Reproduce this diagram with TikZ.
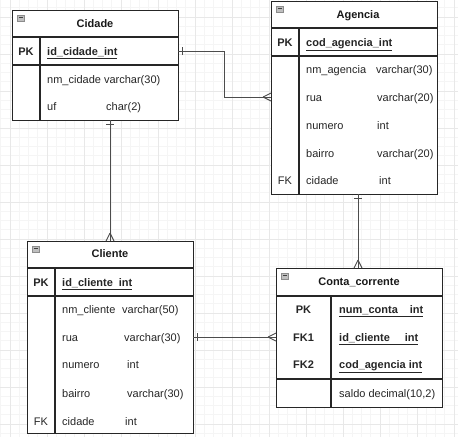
\documentclass[tikz,border=0pt]{standalone}
\usepackage{fontspec}
\setmainfont{Liberation Sans}
\usetikzlibrary{calc}
\begin{document}
\begin{tikzpicture}[x=1pt,y=-1pt,
  box/.style={draw=black!85, line width=1.2pt, anchor=north west, inner sep=0pt},
  sep/.style={draw=black!85, line width=1.2pt},
  txt/.style={anchor=base west, inner sep=0pt, text=black!85, font=\fontsize{11}{13}\selectfont},
  keyt/.style={anchor=base, inner sep=0pt, text=black!85, font=\fontsize{11}{13}\selectfont},
  bkey/.style={keyt, font=\fontsize{11}{13}\selectfont\bfseries},
  btxt/.style={txt, font=\fontsize{11}{13}\selectfont\bfseries},
  ttl/.style={anchor=base, inner sep=0pt, text=black!90, font=\fontsize{11}{13}\selectfont\bfseries},
  icon/.style={draw=black!45, fill=black!25, line width=0.5pt, anchor=north west, minimum width=7pt, minimum height=5.5pt, inner sep=0pt},
  conn/.style={draw=black!70, line width=0.9pt},
  minorg/.style={draw=black!4, line width=0.6pt},
  majorg/.style={draw=black!9, line width=0.6pt}
]
\useasboundingbox (0,0) rectangle (458,437);
\fill[white] (0,0) rectangle (458,437);
% grid
\foreach \i in {0,...,50} {
  \pgfmathsetmacro\gx{0.75+9.25*\i}
  \pgfmathsetmacro\gy{7.75+9.25*\i}
  \draw[minorg] (\gx,0) -- (\gx,437);
  \draw[minorg] (0,\gy) -- (458,\gy);
}
\foreach \i in {0,...,13} {
  \pgfmathsetmacro\gx{10+37*\i}
  \pgfmathsetmacro\gy{17+37*\i-37}
  \draw[majorg] (\gx,0) -- (\gx,437);
  \draw[majorg] (0,\gy) -- (458,\gy);
}

% ---------- Cidade ----------
\node[box, fill=white, minimum width=166pt, minimum height=110pt] (cidade) at (12,10) {};
\draw[sep] (12,37) -- (178,37);
\draw[sep] (12,65) -- (178,65);
\draw[sep] (40,37) -- (40,120);
\node[icon] (cidicon) at (17,15) {};
\draw[black!75, line width=0.8pt] (18.5,17.8) -- (22.5,17.8);
\node[ttl] (cidtitle) at (95,27) {Cidade};
\node[bkey] (cidpk) at (26,55) {PK};
\node[btxt] (cidpkf) at (47,55) {\underline{id\_cidade\_int}};
\node[txt] (cidr1) at (47,83) {nm\_cidade varchar(30)};
\node[txt] (cidr2a) at (47,110) {uf};
\node[txt] (cidr2b) at (106,110) {char(2)};

% ---------- Agencia ----------
\node[box, fill=white, minimum width=166pt, minimum height=193pt] (agencia) at (271,1) {};
\draw[sep] (271,28) -- (437,28);
\draw[sep] (271,56) -- (437,56);
\draw[sep] (299,28) -- (299,194);
\node[icon] (agicon) at (276,6) {};
\draw[black!75, line width=0.8pt] (277.5,8.8) -- (281.5,8.8);
\node[ttl] (agtitle) at (358,18) {Agencia};
\node[bkey] (agpk) at (285,46) {PK};
\node[btxt] (agpkf) at (306,46) {\underline{cod\_agencia\_int}};
\node[txt] (agr1a) at (306,73) {nm\_agencia};
\node[txt] (agr1b) at (376,73) {varchar(30)};
\node[txt] (agr2a) at (306,101) {rua};
\node[txt] (agr2b) at (377,101) {varchar(20)};
\node[txt] (agr3a) at (306,129) {numero};
\node[txt] (agr3b) at (377,129) {int};
\node[txt] (agr4a) at (306,157) {bairro};
\node[txt] (agr4b) at (377,157) {varchar(20)};
\node[keyt] (agfk) at (285,184) {FK};
\node[txt] (agr5a) at (306,184) {cidade};
\node[txt] (agr5b) at (379,184) {int};

% ---------- Cliente ----------
\node[box, fill=white, minimum width=166pt, minimum height=192pt] (cliente) at (27,241) {};
\draw[sep] (27,268) -- (193,268);
\draw[sep] (27,296) -- (193,296);
\draw[sep] (55,268) -- (55,433);
\node[icon] (clicon) at (32,246) {};
\draw[black!75, line width=0.8pt] (33.5,248.8) -- (37.5,248.8);
\node[ttl] (cltitle) at (110,257) {Cliente};
\node[bkey] (clpk) at (41,286) {PK};
\node[btxt] (clpkf) at (62,286) {\underline{id\_cliente\hspace{6pt}int}};
\node[txt] (clr1a) at (62,313) {nm\_cliente};
\node[txt] (clr1b) at (122,313) {varchar(50)};
\node[txt] (clr2a) at (62,341) {rua};
\node[txt] (clr2b) at (124,341) {varchar(30)};
\node[txt] (clr3a) at (62,368) {numero};
\node[txt] (clr3b) at (127,368) {int};
\node[txt] (clr4a) at (62,397) {bairro};
\node[txt] (clr4b) at (127,397) {varchar(30)};
\node[keyt] (clfk) at (41,425) {FK};
\node[txt] (clr5a) at (62,425) {cidade};
\node[txt] (clr5b) at (125,425) {int};

% ---------- Conta_corrente ----------
\node[box, fill=white, minimum width=166pt, minimum height=139pt] (conta) at (276,268) {};
\draw[sep] (276,296) -- (442,296);
\draw[sep] (276,379) -- (442,379);
\draw[sep] (331,296) -- (331,407);
\node[icon] (coicon) at (281,273) {};
\draw[black!75, line width=0.8pt] (282.5,275.8) -- (286.5,275.8);
\node[ttl] (cotitle) at (359,285) {Conta\_corrente};
\node[bkey] (copk) at (303.5,313) {PK};
\node[bkey] (cofk1) at (303.5,341) {FK1};
\node[bkey] (cofk2) at (303.5,368) {FK2};
\node[btxt] (cok1) at (339,313) {\underline{num\_conta\hspace{12pt}int}};
\node[btxt] (cok2) at (339,341) {\underline{id\_cliente\hspace{15pt}int}};
\node[btxt] (cok3) at (339,368) {\underline{cod\_agencia int}};
\node[txt] (cor1) at (339,397) {saldo decimal(10,2)};

% ---------- connectors ----------
% Cidade -> Agencia
\coordinate (c1a) at (178,51);
\coordinate (c1b) at (224,51);
\coordinate (c1c) at (224,97);
\coordinate (c1d) at (271,97);
\draw[conn] (c1a) -- (c1b) -- (c1c) -- (c1d);
\draw[conn] ($(c1a)+(4,-4)$) -- ($(c1a)+(4,4)$);
\draw[conn] ($(c1d)+(-8,0)$) -- ($(c1d)+(0,-4)$);
\draw[conn] ($(c1d)+(-8,0)$) -- ($(c1d)+(0,4)$);

% Cidade -> Cliente
\coordinate (c2a) at (110,120);
\coordinate (c2b) at (110,241);
\draw[conn] (c2a) -- (c2b);
\draw[conn] ($(c2a)+(-4,4)$) -- ($(c2a)+(4,4)$);
\draw[conn] ($(c2b)+(0,-8)$) -- ($(c2b)+(-4,0)$);
\draw[conn] ($(c2b)+(0,-8)$) -- ($(c2b)+(4,0)$);

% Agencia -> Conta_corrente
\coordinate (c3a) at (358,194);
\coordinate (c3b) at (358,268);
\draw[conn] (c3a) -- (c3b);
\draw[conn] ($(c3a)+(-4,4)$) -- ($(c3a)+(4,4)$);
\draw[conn] ($(c3b)+(0,-8)$) -- ($(c3b)+(-4,0)$);
\draw[conn] ($(c3b)+(0,-8)$) -- ($(c3b)+(4,0)$);

% Cliente -> Conta_corrente
\coordinate (c4a) at (193,337);
\coordinate (c4b) at (276,337);
\draw[conn] (c4a) -- (c4b);
\draw[conn] ($(c4a)+(4,-4)$) -- ($(c4a)+(4,4)$);
\draw[conn] ($(c4b)+(-8,0)$) -- ($(c4b)+(0,-4)$);
\draw[conn] ($(c4b)+(-8,0)$) -- ($(c4b)+(0,4)$);
\end{tikzpicture}
\end{document}
